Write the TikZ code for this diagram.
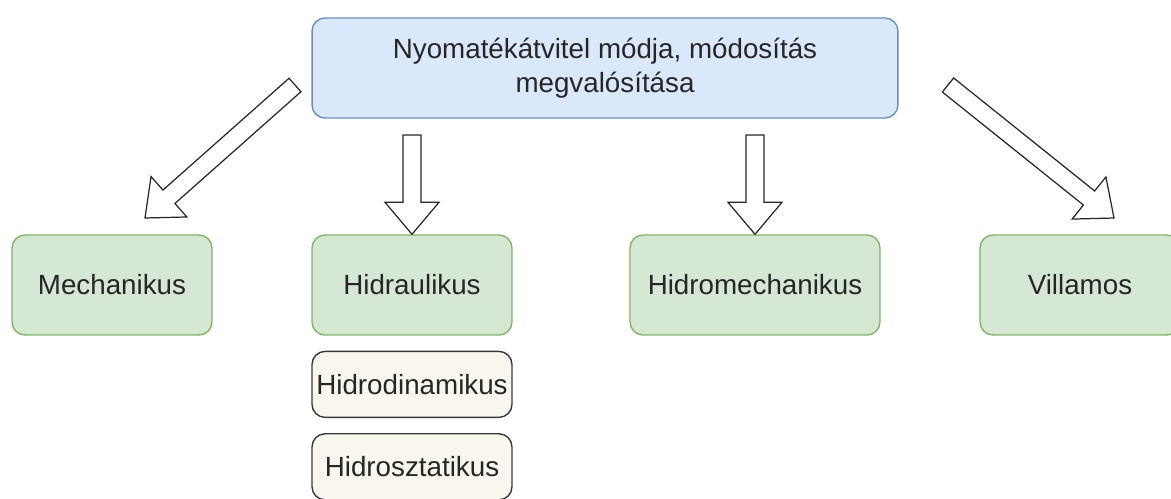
\documentclass[tikz,border=0pt]{standalone}
\usepackage{fontspec}
\setmainfont{Liberation Sans}
\usetikzlibrary{positioning, calc}
\definecolor{topfill}{HTML}{DAE8FC}
\definecolor{topdraw}{HTML}{6C8EBF}
\definecolor{kindfill}{HTML}{D5E8D4}
\definecolor{kinddraw}{HTML}{82B366}
\definecolor{subfill}{HTML}{F9F7ED}
\definecolor{subdraw}{HTML}{36393D}
\tikzset{
x=0.02cm, y=-0.02cm, % one unit is one pixel of the sketch, y grows downwards
box/.style={rectangle, rounded corners=0.26cm, line width=0.8pt, inner sep=0pt, font=\fontsize{15.8}{19.3}\selectfont, text=black!85}, % common look of all boxes
topbox/.style={box, fill=topfill, draw=topdraw, minimum width=11.72cm, minimum height=2cm, align=center}, % the question on top
kindbox/.style={box, fill=kindfill, draw=kinddraw, minimum width=4cm, minimum height=2cm}, % the four kinds
subbox/.style={box, fill=subfill, draw=subdraw, minimum width=4cm, minimum height=1.32cm}, % sub-kinds below Hidraulikus
blockarrow/.style={draw=black!85, fill=white, line width=0.7pt, line join=miter}, % hollow fat arrows
}
% hollow fat arrow from #1 to #2 (tip at #2)
\newcommand{\fatarrow}[2]{%
  \coordinate (hb) at ($(#2)!0.64cm!(#1)$);
  \draw[blockarrow] ($(#1)!0.18cm!90:(#2)$) -- ($(hb)!0.18cm!90:(#2)$) -- ($(hb)!0.54cm!90:(#2)$) -- (#2)
    -- ($(hb)!0.54cm!-90:(#2)$) -- ($(hb)!0.18cm!-90:(#2)$) -- ($(#1)!0.18cm!-90:(#2)$) -- cycle;
}

\begin{document}
\begin{tikzpicture}
    \useasboundingbox (0,0) rectangle (1171,498);
    \clip (0,0) rectangle (1171,498);

    \node[topbox] (top) at (605,68) {Nyomatékátvitel módja, módosítás\\megvalósítása};

    \node[kindbox] (mech) at (112,285) {Mechanikus};
    \node[kindbox] (hydr) at (412,285) {Hidraulikus};
    \node[kindbox, minimum width=5cm] (hmech) at (755,285) {Hidromechanikus};
    \node[kindbox] (vill) at (1080,285) {Villamos};

    \node[subbox, below=0.3cm of hydr] (hdyn) {Hidrodinamikus};
    \node[subbox, below=0.3cm of hdyn] (hstat) {Hidrosztatikus};

    \coordinate (t1) at (295,85);
    \coordinate (e1) at (145,218);
    \coordinate (t2) at (412,135);
    \coordinate (t3) at (755,135);
    \coordinate (t4) at (948,85);
    \coordinate (e4) at (1114,218);

    \fatarrow{t1}{e1}
    \fatarrow{t2}{hydr.north}
    \fatarrow{t3}{hmech.north -| t3}
    \fatarrow{t4}{e4}
\end{tikzpicture}
\end{document}
